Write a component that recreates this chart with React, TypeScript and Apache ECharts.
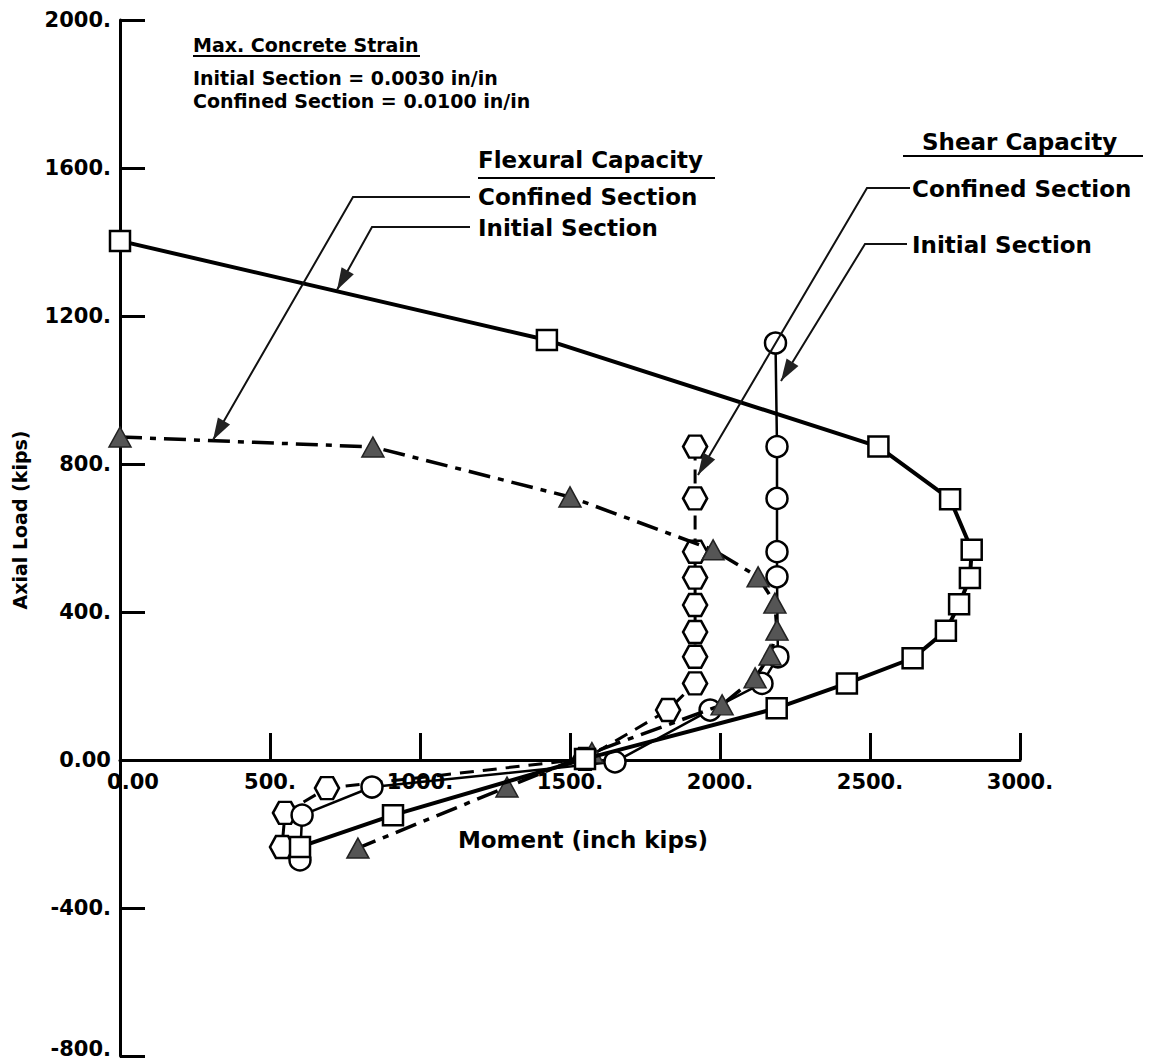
import React, { useEffect, useRef } from "react";
import * as echarts from "echarts";

// ---- data (moment in inch-kips, axial load in kips) ----
const flexInitialMoment = [0, 1423, 2528, 2767, 2839, 2833, 2797, 2753, 2642, 2423, 2189, 1550, 910, 600];
const flexInitialLoad = [1403, 1135, 847, 705, 568, 492, 421, 349, 275, 207, 140, 3, -149, -235];

const flexConfinedMoment = [0, 843, 1500, 1977, 2127, 2183, 2190, 2167, 2117, 2007, 1573, 1290, 793];
const flexConfinedLoad = [873, 846, 711, 568, 495, 424, 351, 284, 222, 149, 20, -73, -238];

const shearInitialMoment = [2185, 2190, 2190, 2190, 2190, 2193, 2140, 1967, 1650, 840, 607, 600];
const shearInitialLoad = [1127, 847, 707, 563, 495, 279, 207, 135, -5, -73, -149, -270];

const shearConfinedMoment = [1917, 1917, 1917, 1917, 1917, 1917, 1917, 1917, 1827, 1550, 690, 550, 540];
const shearConfinedLoad = [847, 707, 563, 493, 419, 346, 279, 207, 135, 3, -76, -143, -235];

const xTickValues = [0, 500, 1000, 1500, 2000, 2500, 3000];
const xTickLabels = ["0.00", "500.", "1000.", "1500.", "2000.", "2500.", "3000."];
const yTickValues = [-800, -400, 0, 400, 800, 1200, 1600, 2000];
const yTickLabels = ["-800.", "-400.", "0.00", "400.", "800.", "1200.", "1600.", "2000."];

const X_MIN = 0;
const X_MAX = 3000;
const Y_MIN = -800;
const Y_MAX = 2000;

const FONT = "DejaVu Sans";

const GRID_LEFT = 120;
const GRID_TOP = 20;
const GRID_W = 900;
const GRID_H = 1036;
// distance from the grid bottom up to the y = 0 line
const ZERO_OFFSET = (GRID_H * (0 - Y_MIN)) / (Y_MAX - Y_MIN);

const zip = (xs: number[], ys: number[]) => xs.map((x, i) => [x, ys[i]]);

const HEX = "path://M0,50 L25,6 L75,6 L100,50 L75,94 L25,94 Z";

const tickFont = { color: "#000", fontFamily: FONT, fontWeight: "bold", fontSize: 21 };

function arrowHead(tip: number[], from: number[], len = 22, half = 7) {
  const dx = tip[0] - from[0];
  const dy = tip[1] - from[1];
  const d = Math.hypot(dx, dy);
  const ux = dx / d;
  const uy = dy / d;
  const bx = tip[0] - ux * len;
  const by = tip[1] - uy * len;
  return {
    type: "polygon",
    shape: {
      points: [
        [tip[0], tip[1]],
        [bx - uy * half, by + ux * half],
        [bx + uy * half, by - ux * half],
      ],
    },
    style: { fill: "#222" },
    z: 100,
  };
}

function leader(points: number[][]) {
  return [
    {
      type: "polyline",
      shape: { points },
      style: { stroke: "#111", lineWidth: 2, fill: null },
      z: 100,
    },
    arrowHead(points[points.length - 1], points[points.length - 2]),
  ];
}

function label(text: string, x: number, y: number, size: number) {
  return {
    type: "text",
    x,
    y,
    z: 100,
    style: {
      text,
      fill: "#000",
      font: `bold ${size}px "${FONT}"`,
      align: "left",
      verticalAlign: "middle",
    },
  };
}

function underline(x1: number, x2: number, y: number) {
  return {
    type: "line",
    shape: { x1, y1: y, x2, y2: y },
    style: { stroke: "#000", lineWidth: 2 },
    z: 100,
  };
}

export default function App() {
  const ref = useRef<HTMLDivElement>(null);

  useEffect(() => {
    if (!ref.current) return;
    const chart = echarts.init(ref.current, undefined, { renderer: "svg" });

    const graphic: any[] = [
      label("Max. Concrete Strain", 193, 45, 19),
      underline(193, 420, 56),
      label("Initial Section = 0.0030 in/in", 193, 78, 19),
      label("Confined Section = 0.0100 in/in", 193, 101, 19),

      label("Flexural Capacity", 478, 160, 23),
      underline(478, 715, 178),
      label("Confined Section", 478, 197, 23),
      label("Initial Section", 478, 228, 23),

      label("Shear Capacity", 922, 142, 23),
      underline(903, 1143, 156),
      label("Confined Section", 912, 189, 23),
      label("Initial Section", 912, 245, 23),

      ...leader([[470, 197], [353, 197], [213, 440]]),
      ...leader([[470, 227], [372, 227], [337, 290]]),
      ...leader([[910, 188], [867, 188], [698, 475]]),
      ...leader([[907, 244], [865, 244], [781, 381]]),

      {
        type: "text",
        x: 20,
        y: 520,
        rotation: Math.PI / 2,
        z: 100,
        style: {
          text: "Axial Load (kips)",
          fill: "#000",
          font: `bold 19px "${FONT}"`,
          align: "center",
          verticalAlign: "middle",
        },
      },
      {
        type: "text",
        x: 583,
        y: 840,
        z: 100,
        style: {
          text: "Moment (inch kips)",
          fill: "#000",
          font: `bold 23px "${FONT}"`,
          align: "center",
          verticalAlign: "middle",
        },
      },
    ];

    const option: any = {
      animation: false,
      backgroundColor: "#fff",
      grid: {
        left: GRID_LEFT,
        top: GRID_TOP,
        width: GRID_W,
        height: GRID_H,
        containLabel: false,
        outerBoundsMode: "none",
      },
      xAxis: {
        type: "value",
        min: X_MIN,
        max: X_MAX,
        interval: 500,
        position: "bottom",
        offset: -ZERO_OFFSET,
        splitLine: { show: false },
        axisLine: { onZero: false, lineStyle: { color: "#000", width: 3 } },
        axisTick: { inside: true, length: 27, lineStyle: { color: "#000", width: 3 } },
        axisLabel: {
          margin: 11,
          ...tickFont,
          formatter: (v: number) => {
            const i = xTickValues.indexOf(v);
            const t = i >= 0 ? xTickLabels[i] : "";
            return v === 0 ? `{z|${t}}` : t;
          },
          rich: {
            z: { padding: [0, 0, 0, 26], ...tickFont },
          },
        },
      },
      yAxis: {
        type: "value",
        min: Y_MIN,
        max: Y_MAX,
        interval: 400,
        splitLine: { show: false },
        axisLine: { onZero: false, lineStyle: { color: "#000", width: 3 } },
        axisTick: { inside: true, length: 25, lineStyle: { color: "#000", width: 3 } },
        axisLabel: {
          margin: 9,
          ...tickFont,
          formatter: (v: number) => {
            const i = yTickValues.indexOf(v);
            const t = i >= 0 ? yTickLabels[i] : "";
            return v === Y_MIN ? `{b|${t}}` : t;
          },
          rich: {
            b: { padding: [0, 0, 14, 0], ...tickFont },
          },
        },
      },
      series: [
        {
          name: "Shear Capacity - Confined Section",
          type: "line",
          data: zip(shearConfinedMoment, shearConfinedLoad),
          symbol: HEX,
          symbolSize: [24, 22],
          itemStyle: { color: "#fff", borderColor: "#000", borderWidth: 2.5 },
          lineStyle: { color: "#000", width: 3, type: [14, 9] },
          z: 2,
        },
        {
          name: "Shear Capacity - Initial Section",
          type: "line",
          data: zip(shearInitialMoment, shearInitialLoad),
          symbol: "circle",
          symbolSize: 21,
          itemStyle: { color: "#fff", borderColor: "#000", borderWidth: 2.5 },
          lineStyle: { color: "#000", width: 2.5 },
          z: 3,
        },
        {
          name: "Flexural Capacity - Confined Section",
          type: "line",
          data: zip(flexConfinedMoment, flexConfinedLoad),
          symbol: "triangle",
          symbolSize: [22, 20],
          itemStyle: { color: "#555", borderColor: "#222", borderWidth: 1.5 },
          lineStyle: { color: "#000", width: 3.5, type: [22, 8, 6, 8] },
          z: 4,
        },
        {
          name: "Flexural Capacity - Initial Section",
          type: "line",
          data: zip(flexInitialMoment, flexInitialLoad),
          symbol: "rect",
          symbolSize: 20,
          itemStyle: { color: "#fff", borderColor: "#000", borderWidth: 2.5 },
          lineStyle: { color: "#000", width: 4 },
          z: 5,
        },
      ],
      graphic,
    };

    chart.setOption(option);
    return () => chart.dispose();
  }, []);

  return (
    <div
      ref={ref}
      style={{ position: "absolute", left: 0, top: 0, width: 1150, height: 1061, background: "#fff" }}
    />
  );
}
